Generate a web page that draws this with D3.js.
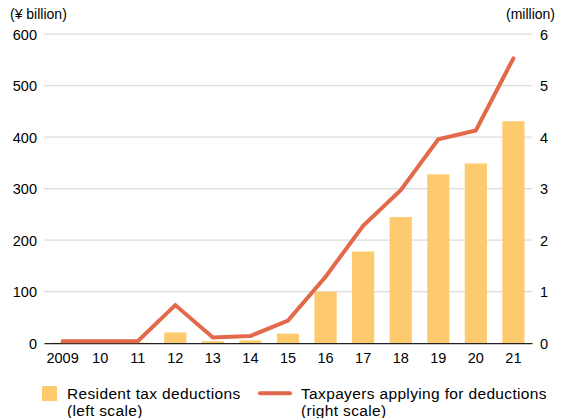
<!DOCTYPE html>
<html>
<head>
<meta charset="utf-8">
<script src="https://cdn.jsdelivr.net/npm/d3@7"></script>
<style>
  html, body { margin: 0; padding: 0; background: #fff; }
  text { font-family: "Liberation Sans", Arial, Helvetica, sans-serif; fill: #000; }
</style>
</head>
<body>
<svg id="chart" width="563" height="418"></svg>
<script>
// Fiscal years shown on the x axis
const years = ["2009", "10", "11", "12", "13", "14", "15", "16", "17", "18", "19", "20", "21"];
// Resident tax deductions, ¥ billion (left scale)
const deductions = [1, 0.5, 1, 21, 4, 5.5, 18.5, 100, 178, 245, 328, 349, 431];
// Taxpayers applying for deductions, million (right scale)
const taxpayers = [0.04, 0.04, 0.04, 0.74, 0.11, 0.14, 0.44, 1.29, 2.28, 2.97, 3.96, 4.13, 5.53];
const leftTicks = [0, 100, 200, 300, 400, 500, 600];
const rightTicks = [0, 1, 2, 3, 4, 5, 6];
const legendItems = [
  ["Resident tax deductions", "(left scale)"],
  ["Taxpayers applying for deductions", "(right scale)"]
];

const svg = d3.select("#chart");
const plotLeft = 44, plotRight = 532, plotTop = 34.2, plotBottom = 343.2;

const x = d3.scaleBand().domain(years).range([plotLeft, plotRight]).paddingInner(0.41).paddingOuter(0.2);
const yL = d3.scaleLinear().domain([0, 600]).range([plotBottom, plotTop]);
const yR = d3.scaleLinear().domain([0, 6]).range([plotBottom, plotTop]);

const barColor = "#FDCA6E";
const lineColor = "#E2694A";

// horizontal gridlines
svg.append("g").selectAll("line").data(leftTicks.slice(1)).join("line")
  .attr("x1", plotLeft).attr("x2", plotRight)
  .attr("y1", d => yL(d)).attr("y2", d => yL(d))
  .attr("stroke", "#dcdcdc").attr("stroke-width", 1.2);

// left axis labels
const axL = svg.append("g").attr("transform", `translate(${plotLeft - 7},0)`)
  .call(d3.axisLeft(yL).tickValues(leftTicks).tickSize(0).tickPadding(0).tickFormat(d3.format("d")));
axL.select(".domain").remove();
axL.selectAll("text").style("font-size", "14.5px").attr("dy", "0.36em");

// right axis labels
const axR = svg.append("g").attr("transform", `translate(${plotRight + 8},0)`)
  .call(d3.axisRight(yR).tickValues(rightTicks).tickSize(0).tickPadding(0).tickFormat(d3.format("d")));
axR.select(".domain").remove();
axR.selectAll("text").style("font-size", "14.5px").attr("dy", "0.36em");

// bars
svg.append("g").selectAll("rect").data(years).join("rect")
  .attr("x", d => x(d))
  .attr("width", x.bandwidth())
  .attr("y", (d, i) => yL(deductions[i]))
  .attr("height", (d, i) => plotBottom - yL(deductions[i]))
  .attr("fill", barColor);

// baseline + x labels
const axX = svg.append("g").attr("transform", `translate(0,${plotBottom})`)
  .call(d3.axisBottom(x).tickSize(0).tickPadding(10));
axX.select(".domain").attr("stroke", "#222").attr("stroke-width", 1.2);
axX.selectAll("text").style("font-size", "14.5px");

// taxpayer line
const line = d3.line()
  .x((d, i) => x(years[i]) + x.bandwidth() / 2)
  .y(d => yR(d));
svg.append("path").datum(taxpayers)
  .attr("d", line)
  .attr("fill", "none")
  .attr("stroke", lineColor)
  .attr("stroke-width", 4)
  .attr("stroke-linejoin", "miter")
  .attr("stroke-linecap", "round");

// unit labels
svg.append("text").attr("x", 10).attr("y", 19).style("font-size", "14px").text("(¥ billion)");
svg.append("text").attr("x", 555).attr("y", 19).attr("text-anchor", "end").style("font-size", "14px").text("(million)");

// legend: swatch + two-line label
const lg = svg.append("g").style("font-size", "15.5px").style("letter-spacing", "0.35px");
lg.append("rect").attr("x", 42).attr("y", 386).attr("width", 15).attr("height", 15).attr("fill", barColor);
lg.append("line").attr("x1", 260).attr("x2", 290).attr("y1", 393.3).attr("y2", 393.3)
  .attr("stroke", lineColor).attr("stroke-width", 4).attr("stroke-linecap", "round");
const labelX = [67, 301];
legendItems.forEach((lines, i) => {
  lines.forEach((s, j) => {
    lg.append("text").attr("x", labelX[i]).attr("y", 398.5 + j * 17.3).text(s);
  });
});
</script>
</body>
</html>
